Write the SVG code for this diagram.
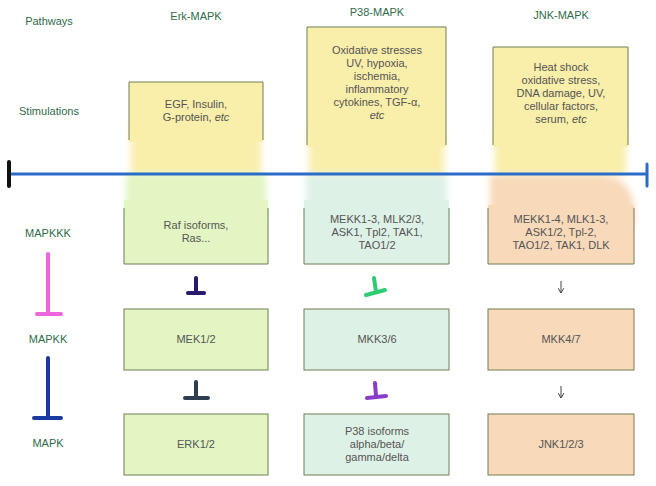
<svg xmlns="http://www.w3.org/2000/svg" width="656" height="486" viewBox="0 0 656 486">
<defs>
<filter id="soft" x="-20%" y="-40%" width="140%" height="180%"><feGaussianBlur stdDeviation="3.5"/></filter>
<marker id="ah" markerWidth="6" markerHeight="6" refX="5" refY="3" orient="auto" markerUnits="userSpaceOnUse"><path d="M0,0 L5,3 L0,6" fill="none" stroke="#444" stroke-width="1"/></marker>
</defs>
<style>
text{font-family:"Liberation Sans",Arial,sans-serif;font-size:11px;text-anchor:middle}
.hd{fill:#2f6b4a}
.bx{fill:#555}
.edge{fill:none;stroke:#6f7f55;stroke-width:1}
.y{fill:#f9eeaa}.g{fill:#e2f5c2}.t{fill:#def1e6}.p{fill:#f8d9ba}
.tb{fill:none;stroke-linecap:round;stroke-width:4}
</style>
<rect width="656" height="486" fill="#ffffff"/>
<g id="headers">
<text class="hd" x="49" y="25">Pathways</text>
<text class="hd" x="196" y="20">Erk-MAPK</text>
<text class="hd" x="377" y="16">P38-MAPK</text>
<text class="hd" x="561" y="19">JNK-MAPK</text>
<text class="hd" x="49" y="115">Stimulations</text>
<text class="hd" x="48" y="237">MAPKKK</text>
<text class="hd" x="48" y="343">MAPKK</text>
<text class="hd" x="48" y="447">MAPK</text>
</g>
<g id="erk-stim">
<rect class="y" x="131" y="120" width="130" height="56" filter="url(#soft)"/>
<rect class="y" x="129" y="82" width="134" height="60"/>
<path class="edge" d="M129,140 V82 H263 V140"/>
<text class="bx" x="196" y="108">EGF, Insulin,</text>
<text class="bx" x="196" y="121">G-protein, <tspan font-style="italic">etc</tspan></text>
</g>
<g id="p38-stim">
<rect class="y" x="309" y="130" width="135" height="46" filter="url(#soft)"/>
<rect class="y" x="307" y="27" width="139" height="120"/>
<path class="edge" d="M307,145 V27 H446 V145"/>
<text class="bx" x="377" y="54">Oxidative stresses</text>
<text class="bx" x="377" y="67">UV, hypoxia,</text>
<text class="bx" x="377" y="80">ischemia,</text>
<text class="bx" x="377" y="93">inflammatory</text>
<text class="bx" x="377" y="106">cytokines, TGF-α,</text>
<text class="bx" x="377" y="119" font-style="italic">etc</text>
</g>
<g id="jnk-stim">
<rect class="y" x="495" y="130" width="131" height="46" filter="url(#soft)"/>
<rect class="y" x="493" y="47" width="135" height="100"/>
<path class="edge" d="M493,145 V47 H628 V145"/>
<text class="bx" x="561" y="71">Heat shock</text>
<text class="bx" x="561" y="84">oxidative stress,</text>
<text class="bx" x="561" y="97">DNA damage, UV,</text>
<text class="bx" x="561" y="110">cellular factors,</text>
<text class="bx" x="561" y="123">serum, <tspan font-style="italic">etc</tspan></text>
</g>
<g id="erk-mapkkk">
<rect class="g" x="126" y="174" width="140" height="44" filter="url(#soft)"/>
<rect class="g" x="124" y="200" width="144" height="64"/>
<path class="edge" d="M124,208 V264 H268 V208"/>
<text class="bx" x="196" y="229">Raf isoforms,</text>
<text class="bx" x="196" y="242">Ras...</text>
</g>
<g id="p38-mapkkk">
<rect class="t" x="306" y="174" width="141" height="44" filter="url(#soft)"/>
<rect class="t" x="304" y="200" width="145" height="64"/>
<path class="edge" d="M304,208 V264 H449 V208"/>
<text class="bx" x="377" y="223">MEKK1-3, MLK2/3,</text>
<text class="bx" x="377" y="236">ASK1, Tpl2, TAK1,</text>
<text class="bx" x="377" y="249">TAO1/2</text>
</g>
<g id="jnk-mapkkk">
<path class="p" d="M490,175 H600 Q634,177 634,212 V225 H490 Z" filter="url(#soft)"/>
<rect class="p" x="488" y="205" width="146" height="59"/>
<path class="edge" d="M488,208 V264 H634 V208"/>
<text class="bx" x="561" y="223">MEKK1-4, MLK1-3,</text>
<text class="bx" x="561" y="236">ASK1/2, Tpl-2,</text>
<text class="bx" x="561" y="249">TAO1/2, TAK1, DLK</text>
</g>
<g id="mek">
<rect class="g" x="124" y="309" width="144" height="61" stroke="#6f7f55"/>
<text class="bx" x="196" y="343">MEK1/2</text>
</g>
<g id="mkk36">
<rect class="t" x="304" y="309" width="145" height="61" stroke="#6f7f55"/>
<text class="bx" x="377" y="343">MKK3/6</text>
</g>
<g id="mkk47">
<rect class="p" x="488" y="309" width="146" height="61" stroke="#6f7f55"/>
<text class="bx" x="561" y="343">MKK4/7</text>
</g>
<g id="erk">
<rect class="g" x="124" y="414" width="144" height="61" stroke="#6f7f55"/>
<text class="bx" x="196" y="448">ERK1/2</text>
</g>
<g id="p38">
<rect class="t" x="304" y="414" width="145" height="61" stroke="#6f7f55"/>
<text class="bx" x="377" y="435">P38 isoforms</text>
<text class="bx" x="377" y="448">alpha/beta/</text>
<text class="bx" x="377" y="461">gamma/delta</text>
</g>
<g id="jnk">
<rect class="p" x="488" y="414" width="146" height="61" stroke="#6f7f55"/>
<text class="bx" x="561" y="448">JNK1/2/3</text>
</g>
<g id="connectors">
<path d="M9,174 H646" stroke="#2a6cc8" stroke-width="3" fill="none"/>
<path d="M9,162 V186" stroke="#111" stroke-width="4" stroke-linecap="round"/>
<path d="M647,164 V186" stroke="#2a6cc8" stroke-width="3" stroke-linecap="round"/>
<path class="tb" stroke="#ee66dd" d="M48,254 V314 M37,314 H61"/>
<path class="tb" stroke="#1a3aa0" d="M48,358 V418 M34,418 H61"/>
<path class="tb" stroke="#2a1a6e" d="M196,278 V293 M188,293 H204"/>
<path class="tb" stroke="#2e3e50" d="M196,382 V397 M185,398 H208"/>
<path class="tb" stroke="#2ecc71" d="M374,278 L376,292 M366,295 L385,290"/>
<path class="tb" stroke="#8a3cc8" d="M375,383 L376,396 M367,398 L386,396"/>
<path d="M561,281 V293" stroke="#444" stroke-width="1" marker-end="url(#ah)"/>
<path d="M561,386 V398" stroke="#444" stroke-width="1" marker-end="url(#ah)"/>
</g>
</svg>
